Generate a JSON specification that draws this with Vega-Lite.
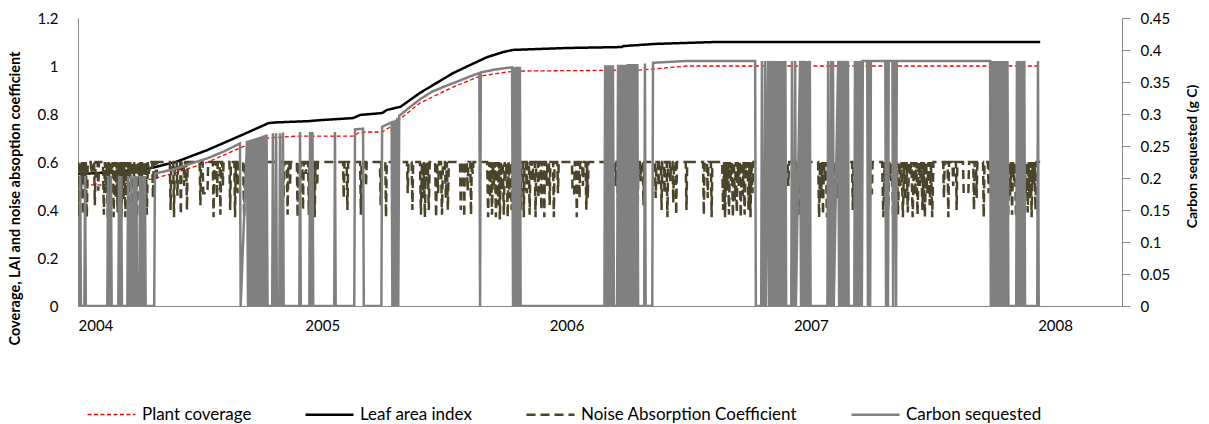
{"$schema":"https://vega.github.io/schema/vega-lite/v6.json","width":1044,"height":288,"autosize":{"type":"none"},"padding":{"left":78,"top":18,"right":87,"bottom":118},"background":"#ffffff",
"config":{"view":{"stroke":null},"font":"Lato","axis":{"domainColor":"#868686","domainWidth":1,"labelFont":"Lato","labelFontSize":15,"labelColor":"#000000","titleFont":"Lato","titleColor":"#000000","grid":false},"legend":{"labelFont":"Lato","labelLimit":500}},
"data":{"values":[
{"s":"P","x":2004.0,"y":0.505},{"s":"P","x":2004.12,"y":0.504},{"s":"P","x":2004.26,"y":0.517},{"s":"P","x":2004.3,"y":0.529},{"s":"P","x":2004.397,"y":0.554},{"s":"P","x":2004.532,"y":0.6},{"s":"P","x":2004.671,"y":0.662},{"s":"P","x":2004.778,"y":0.7},{"s":"P","x":2004.9,"y":0.708},{"s":"P","x":2005.126,"y":0.708},{"s":"P","x":2005.155,"y":0.725},{"s":"P","x":2005.245,"y":0.725},{"s":"P","x":2005.278,"y":0.746},{"s":"P","x":2005.4,"y":0.846},{"s":"P","x":2005.535,"y":0.912},{"s":"P","x":2005.646,"y":0.958},{"s":"P","x":2005.757,"y":0.975},{"s":"P","x":2005.81,"y":0.979},{"s":"P","x":2006.3,"y":0.983},{"s":"P","x":2006.45,"y":0.996},{"s":"P","x":2006.49,"y":1.0},{"s":"P","x":2007.939,"y":1.0},
{"s":"L","x":2004.0,"y":0.55},{"s":"L","x":2004.12,"y":0.556},{"s":"L","x":2004.19,"y":0.562},{"s":"L","x":2004.3,"y":0.575},{"s":"L","x":2004.4,"y":0.6},{"s":"L","x":2004.53,"y":0.65},{"s":"L","x":2004.67,"y":0.712},{"s":"L","x":2004.78,"y":0.762},{"s":"L","x":2004.81,"y":0.765},{"s":"L","x":2004.94,"y":0.77},{"s":"L","x":2005.0,"y":0.775},{"s":"L","x":2005.126,"y":0.783},{"s":"L","x":2005.155,"y":0.796},{"s":"L","x":2005.245,"y":0.804},{"s":"L","x":2005.265,"y":0.817},{"s":"L","x":2005.32,"y":0.83},{"s":"L","x":2005.4,"y":0.888},{"s":"L","x":2005.535,"y":0.97},{"s":"L","x":2005.605,"y":1.004},{"s":"L","x":2005.675,"y":1.037},{"s":"L","x":2005.74,"y":1.058},{"s":"L","x":2005.78,"y":1.067},{"s":"L","x":2006.0,"y":1.075},{"s":"L","x":2006.227,"y":1.079},{"s":"L","x":2006.232,"y":1.083},{"s":"L","x":2006.362,"y":1.092},{"s":"L","x":2006.608,"y":1.1},{"s":"L","x":2007.939,"y":1.1},
{"s":"N","x":2004.000,"y":0.6},{"s":"N","x":2004.004,"y":0.37},{"s":"N","x":2004.008,"y":0.6},{"s":"N","x":2004.012,"y":0.45},{"s":"N","x":2004.016,"y":0.6},{"s":"N","x":2004.020,"y":0.38},{"s":"N","x":2004.024,"y":0.6},{"s":"N","x":2004.028,"y":0.5},{"s":"N","x":2004.032,"y":0.6},{"s":"N","x":2004.036,"y":0.37},{"s":"N","x":2004.040,"y":0.6},{"s":"N","x":2004.052,"y":0.6},{"s":"N","x":2004.055,"y":0.55},{"s":"N","x":2004.058,"y":0.6},{"s":"N","x":2004.066,"y":0.6},{"s":"N","x":2004.069,"y":0.42},{"s":"N","x":2004.072,"y":0.6},{"s":"N","x":2004.080,"y":0.6},{"s":"N","x":2004.083,"y":0.48},{"s":"N","x":2004.086,"y":0.6},
{"s":"N","x":2004.102,"y":0.6},{"s":"N","x":2004.106,"y":0.38},{"s":"N","x":2004.110,"y":0.6},{"s":"N","x":2004.114,"y":0.47},{"s":"N","x":2004.118,"y":0.6},{"s":"N","x":2004.122,"y":0.37},{"s":"N","x":2004.126,"y":0.6},{"s":"N","x":2004.130,"y":0.42},{"s":"N","x":2004.134,"y":0.6},{"s":"N","x":2004.138,"y":0.55},{"s":"N","x":2004.142,"y":0.6},{"s":"N","x":2004.146,"y":0.37},{"s":"N","x":2004.150,"y":0.6},{"s":"N","x":2004.154,"y":0.45},{"s":"N","x":2004.158,"y":0.6},{"s":"N","x":2004.162,"y":0.39},{"s":"N","x":2004.166,"y":0.6},{"s":"N","x":2004.170,"y":0.5},{"s":"N","x":2004.174,"y":0.6},{"s":"N","x":2004.178,"y":0.37},{"s":"N","x":2004.182,"y":0.6},{"s":"N","x":2004.186,"y":0.44},{"s":"N","x":2004.190,"y":0.6},{"s":"N","x":2004.194,"y":0.37},{"s":"N","x":2004.198,"y":0.6},{"s":"N","x":2004.202,"y":0.48},{"s":"N","x":2004.206,"y":0.6},{"s":"N","x":2004.210,"y":0.38},{"s":"N","x":2004.214,"y":0.6},{"s":"N","x":2004.218,"y":0.52},{"s":"N","x":2004.222,"y":0.6},{"s":"N","x":2004.226,"y":0.36},{"s":"N","x":2004.230,"y":0.6},{"s":"N","x":2004.234,"y":0.43},{"s":"N","x":2004.238,"y":0.6},{"s":"N","x":2004.242,"y":0.37},{"s":"N","x":2004.246,"y":0.6},{"s":"N","x":2004.250,"y":0.5},{"s":"N","x":2004.254,"y":0.6},{"s":"N","x":2004.258,"y":0.4},{"s":"N","x":2004.262,"y":0.6},{"s":"N","x":2004.266,"y":0.37},{"s":"N","x":2004.270,"y":0.6},{"s":"N","x":2004.274,"y":0.46},{"s":"N","x":2004.278,"y":0.6},{"s":"N","x":2004.282,"y":0.38},{"s":"N","x":2004.286,"y":0.6},{"s":"N","x":2004.290,"y":0.55},{"s":"N","x":2004.294,"y":0.6},
{"s":"N","x":2004.304,"y":0.6},{"s":"N","x":2004.307,"y":0.45},{"s":"N","x":2004.310,"y":0.6},{"s":"N","x":2004.318,"y":0.6},{"s":"N","x":2004.321,"y":0.52},{"s":"N","x":2004.324,"y":0.6},
{"s":"N","x":2004.376,"y":0.6},{"s":"N","x":2004.379,"y":0.4},{"s":"N","x":2004.382,"y":0.6},{"s":"N","x":2004.390,"y":0.6},{"s":"N","x":2004.393,"y":0.37},{"s":"N","x":2004.396,"y":0.6},{"s":"N","x":2004.404,"y":0.6},{"s":"N","x":2004.407,"y":0.46},{"s":"N","x":2004.410,"y":0.6},{"s":"N","x":2004.418,"y":0.6},{"s":"N","x":2004.421,"y":0.38},{"s":"N","x":2004.424,"y":0.6},{"s":"N","x":2004.432,"y":0.6},{"s":"N","x":2004.435,"y":0.5},{"s":"N","x":2004.438,"y":0.6},{"s":"N","x":2004.443,"y":0.6},{"s":"N","x":2004.446,"y":0.4},{"s":"N","x":2004.449,"y":0.6},
{"s":"N","x":2004.498,"y":0.6},{"s":"N","x":2004.501,"y":0.42},{"s":"N","x":2004.504,"y":0.6},{"s":"N","x":2004.510,"y":0.6},{"s":"N","x":2004.513,"y":0.47},{"s":"N","x":2004.530,"y":0.47},{"s":"N","x":2004.533,"y":0.6},
{"s":"N","x":2004.552,"y":0.6},{"s":"N","x":2004.555,"y":0.37},{"s":"N","x":2004.558,"y":0.6},{"s":"N","x":2004.566,"y":0.6},{"s":"N","x":2004.569,"y":0.45},{"s":"N","x":2004.572,"y":0.6},{"s":"N","x":2004.580,"y":0.6},{"s":"N","x":2004.583,"y":0.38},{"s":"N","x":2004.586,"y":0.6},{"s":"N","x":2004.590,"y":0.6},{"s":"N","x":2004.593,"y":0.5},{"s":"N","x":2004.596,"y":0.6},
{"s":"N","x":2004.620,"y":0.6},{"s":"N","x":2004.623,"y":0.4},{"s":"N","x":2004.626,"y":0.6},{"s":"N","x":2004.640,"y":0.6},{"s":"N","x":2004.643,"y":0.37},{"s":"N","x":2004.646,"y":0.6},{"s":"N","x":2004.650,"y":0.6},{"s":"N","x":2004.653,"y":0.47},{"s":"N","x":2004.656,"y":0.6},
{"s":"N","x":2004.676,"y":0.6},{"s":"N","x":2004.680,"y":0.37},{"s":"N","x":2004.684,"y":0.6},{"s":"N","x":2004.688,"y":0.45},{"s":"N","x":2004.692,"y":0.6},{"s":"N","x":2004.696,"y":0.38},{"s":"N","x":2004.700,"y":0.6},{"s":"N","x":2004.704,"y":0.52},{"s":"N","x":2004.708,"y":0.6},{"s":"N","x":2004.712,"y":0.36},{"s":"N","x":2004.716,"y":0.6},{"s":"N","x":2004.720,"y":0.42},{"s":"N","x":2004.724,"y":0.6},{"s":"N","x":2004.728,"y":0.37},{"s":"N","x":2004.732,"y":0.6},{"s":"N","x":2004.736,"y":0.48},{"s":"N","x":2004.740,"y":0.6},{"s":"N","x":2004.744,"y":0.39},{"s":"N","x":2004.748,"y":0.6},{"s":"N","x":2004.752,"y":0.55},{"s":"N","x":2004.756,"y":0.6},{"s":"N","x":2004.760,"y":0.37},{"s":"N","x":2004.764,"y":0.6},{"s":"N","x":2004.768,"y":0.44},{"s":"N","x":2004.772,"y":0.6},
{"s":"N","x":2004.839,"y":0.6},{"s":"N","x":2004.842,"y":0.45},{"s":"N","x":2004.845,"y":0.6},{"s":"N","x":2004.855,"y":0.6},{"s":"N","x":2004.858,"y":0.38},{"s":"N","x":2004.861,"y":0.6},{"s":"N","x":2004.865,"y":0.6},{"s":"N","x":2004.868,"y":0.5},{"s":"N","x":2004.871,"y":0.6},
{"s":"N","x":2004.896,"y":0.6},{"s":"N","x":2004.899,"y":0.37},{"s":"N","x":2004.902,"y":0.6},{"s":"N","x":2004.906,"y":0.6},{"s":"N","x":2004.909,"y":0.47},{"s":"N","x":2004.912,"y":0.6},{"s":"N","x":2004.918,"y":0.6},{"s":"N","x":2004.921,"y":0.4},{"s":"N","x":2004.924,"y":0.6},{"s":"N","x":2004.930,"y":0.6},{"s":"N","x":2004.933,"y":0.55},{"s":"N","x":2004.936,"y":0.6},{"s":"N","x":2004.942,"y":0.6},{"s":"N","x":2004.945,"y":0.38},{"s":"N","x":2004.948,"y":0.6},{"s":"N","x":2004.954,"y":0.6},{"s":"N","x":2004.957,"y":0.45},{"s":"N","x":2004.960,"y":0.6},{"s":"N","x":2004.966,"y":0.6},{"s":"N","x":2004.969,"y":0.37},{"s":"N","x":2004.972,"y":0.6},{"s":"N","x":2004.976,"y":0.6},{"s":"N","x":2004.979,"y":0.5},{"s":"N","x":2004.982,"y":0.6},
{"s":"N","x":2005.085,"y":0.6},{"s":"N","x":2005.088,"y":0.45},{"s":"N","x":2005.091,"y":0.6},{"s":"N","x":2005.100,"y":0.6},{"s":"N","x":2005.103,"y":0.4},{"s":"N","x":2005.106,"y":0.6},{"s":"N","x":2005.155,"y":0.6},{"s":"N","x":2005.158,"y":0.38},{"s":"N","x":2005.161,"y":0.6},{"s":"N","x":2005.176,"y":0.6},{"s":"N","x":2005.179,"y":0.5},{"s":"N","x":2005.182,"y":0.6},{"s":"N","x":2005.236,"y":0.6},{"s":"N","x":2005.239,"y":0.42},{"s":"N","x":2005.242,"y":0.6},{"s":"N","x":2005.258,"y":0.6},{"s":"N","x":2005.261,"y":0.37},{"s":"N","x":2005.264,"y":0.6},{"s":"N","x":2005.347,"y":0.6},{"s":"N","x":2005.350,"y":0.47},{"s":"N","x":2005.353,"y":0.6},{"s":"N","x":2005.366,"y":0.6},{"s":"N","x":2005.369,"y":0.4},{"s":"N","x":2005.372,"y":0.6},
{"s":"N","x":2005.400,"y":0.6},{"s":"N","x":2005.404,"y":0.38},{"s":"N","x":2005.408,"y":0.6},{"s":"N","x":2005.412,"y":0.45},{"s":"N","x":2005.416,"y":0.6},{"s":"N","x":2005.420,"y":0.37},{"s":"N","x":2005.424,"y":0.6},{"s":"N","x":2005.428,"y":0.52},{"s":"N","x":2005.432,"y":0.6},{"s":"N","x":2005.436,"y":0.4},{"s":"N","x":2005.440,"y":0.6},
{"s":"N","x":2005.462,"y":0.6},{"s":"N","x":2005.466,"y":0.37},{"s":"N","x":2005.470,"y":0.6},{"s":"N","x":2005.474,"y":0.47},{"s":"N","x":2005.478,"y":0.6},{"s":"N","x":2005.486,"y":0.6},{"s":"N","x":2005.490,"y":0.38},{"s":"N","x":2005.494,"y":0.6},{"s":"N","x":2005.502,"y":0.6},{"s":"N","x":2005.506,"y":0.45},{"s":"N","x":2005.510,"y":0.6},{"s":"N","x":2005.514,"y":0.4},{"s":"N","x":2005.518,"y":0.6},
{"s":"N","x":2005.564,"y":0.6},{"s":"N","x":2005.567,"y":0.4},{"s":"N","x":2005.570,"y":0.6},{"s":"N","x":2005.578,"y":0.6},{"s":"N","x":2005.581,"y":0.37},{"s":"N","x":2005.584,"y":0.6},{"s":"N","x":2005.592,"y":0.6},{"s":"N","x":2005.595,"y":0.48},{"s":"N","x":2005.598,"y":0.6},{"s":"N","x":2005.606,"y":0.6},{"s":"N","x":2005.609,"y":0.38},{"s":"N","x":2005.612,"y":0.6},{"s":"N","x":2005.616,"y":0.55},{"s":"N","x":2005.619,"y":0.6},
{"s":"N","x":2005.675,"y":0.6},{"s":"N","x":2005.679,"y":0.37},{"s":"N","x":2005.683,"y":0.6},{"s":"N","x":2005.687,"y":0.45},{"s":"N","x":2005.691,"y":0.6},{"s":"N","x":2005.695,"y":0.38},{"s":"N","x":2005.699,"y":0.6},{"s":"N","x":2005.703,"y":0.5},{"s":"N","x":2005.707,"y":0.6},{"s":"N","x":2005.711,"y":0.37},{"s":"N","x":2005.715,"y":0.6},{"s":"N","x":2005.719,"y":0.42},{"s":"N","x":2005.723,"y":0.6},{"s":"N","x":2005.727,"y":0.36},{"s":"N","x":2005.731,"y":0.6},{"s":"N","x":2005.735,"y":0.48},{"s":"N","x":2005.739,"y":0.6},{"s":"N","x":2005.743,"y":0.38},{"s":"N","x":2005.747,"y":0.6},{"s":"N","x":2005.751,"y":0.53},{"s":"N","x":2005.755,"y":0.6},{"s":"N","x":2005.759,"y":0.37},{"s":"N","x":2005.763,"y":0.6},{"s":"N","x":2005.767,"y":0.45},{"s":"N","x":2005.771,"y":0.6},{"s":"N","x":2005.775,"y":0.4},{"s":"N","x":2005.779,"y":0.6},
{"s":"N","x":2005.810,"y":0.6},{"s":"N","x":2005.813,"y":0.4},{"s":"N","x":2005.816,"y":0.6},{"s":"N","x":2005.822,"y":0.6},{"s":"N","x":2005.825,"y":0.37},{"s":"N","x":2005.828,"y":0.6},{"s":"N","x":2005.834,"y":0.6},{"s":"N","x":2005.837,"y":0.47},{"s":"N","x":2005.840,"y":0.6},{"s":"N","x":2005.846,"y":0.6},{"s":"N","x":2005.849,"y":0.38},{"s":"N","x":2005.852,"y":0.6},{"s":"N","x":2005.858,"y":0.6},{"s":"N","x":2005.861,"y":0.52},{"s":"N","x":2005.864,"y":0.6},{"s":"N","x":2005.870,"y":0.6},{"s":"N","x":2005.873,"y":0.37},{"s":"N","x":2005.876,"y":0.6},{"s":"N","x":2005.882,"y":0.6},{"s":"N","x":2005.885,"y":0.45},{"s":"N","x":2005.888,"y":0.6},{"s":"N","x":2005.894,"y":0.6},{"s":"N","x":2005.897,"y":0.4},{"s":"N","x":2005.900,"y":0.6},{"s":"N","x":2005.906,"y":0.6},{"s":"N","x":2005.909,"y":0.37},{"s":"N","x":2005.912,"y":0.6},{"s":"N","x":2005.916,"y":0.6},{"s":"N","x":2005.919,"y":0.5},{"s":"N","x":2005.922,"y":0.6},
{"s":"N","x":2005.928,"y":0.6},{"s":"N","x":2005.931,"y":0.42},{"s":"N","x":2005.934,"y":0.6},{"s":"N","x":2005.945,"y":0.6},{"s":"N","x":2005.948,"y":0.37},{"s":"N","x":2005.951,"y":0.6},{"s":"N","x":2005.962,"y":0.6},{"s":"N","x":2005.965,"y":0.47},{"s":"N","x":2005.968,"y":0.6},
{"s":"N","x":2006.022,"y":0.6},{"s":"N","x":2006.025,"y":0.47},{"s":"N","x":2006.031,"y":0.47},{"s":"N","x":2006.034,"y":0.6},{"s":"N","x":2006.039,"y":0.6},{"s":"N","x":2006.042,"y":0.37},{"s":"N","x":2006.045,"y":0.6},{"s":"N","x":2006.050,"y":0.6},{"s":"N","x":2006.053,"y":0.45},{"s":"N","x":2006.056,"y":0.6},{"s":"N","x":2006.064,"y":0.6},{"s":"N","x":2006.067,"y":0.5},{"s":"N","x":2006.070,"y":0.6},{"s":"N","x":2006.078,"y":0.6},{"s":"N","x":2006.081,"y":0.4},{"s":"N","x":2006.084,"y":0.6},{"s":"N","x":2006.087,"y":0.45},{"s":"N","x":2006.090,"y":0.6},
{"s":"N","x":2006.170,"y":0.6},{"s":"N","x":2006.173,"y":0.45},{"s":"N","x":2006.176,"y":0.6},{"s":"N","x":2006.184,"y":0.6},{"s":"N","x":2006.187,"y":0.37},{"s":"N","x":2006.190,"y":0.6},{"s":"N","x":2006.198,"y":0.6},{"s":"N","x":2006.201,"y":0.5},{"s":"N","x":2006.204,"y":0.6},{"s":"N","x":2006.208,"y":0.6},{"s":"N","x":2006.211,"y":0.4},{"s":"N","x":2006.214,"y":0.6},
{"s":"N","x":2006.252,"y":0.6},{"s":"N","x":2006.255,"y":0.38},{"s":"N","x":2006.258,"y":0.6},{"s":"N","x":2006.264,"y":0.6},{"s":"N","x":2006.267,"y":0.47},{"s":"N","x":2006.270,"y":0.6},{"s":"N","x":2006.276,"y":0.6},{"s":"N","x":2006.279,"y":0.4},{"s":"N","x":2006.282,"y":0.6},{"s":"N","x":2006.288,"y":0.6},{"s":"N","x":2006.291,"y":0.37},{"s":"N","x":2006.294,"y":0.6},{"s":"N","x":2006.300,"y":0.6},{"s":"N","x":2006.303,"y":0.52},{"s":"N","x":2006.306,"y":0.6},{"s":"N","x":2006.312,"y":0.6},{"s":"N","x":2006.315,"y":0.42},{"s":"N","x":2006.318,"y":0.6},
{"s":"N","x":2006.362,"y":0.6},{"s":"N","x":2006.365,"y":0.45},{"s":"N","x":2006.368,"y":0.6},{"s":"N","x":2006.374,"y":0.6},{"s":"N","x":2006.377,"y":0.5},{"s":"N","x":2006.380,"y":0.6},{"s":"N","x":2006.386,"y":0.6},{"s":"N","x":2006.389,"y":0.4},{"s":"N","x":2006.392,"y":0.6},{"s":"N","x":2006.398,"y":0.6},{"s":"N","x":2006.401,"y":0.47},{"s":"N","x":2006.404,"y":0.6},{"s":"N","x":2006.410,"y":0.6},{"s":"N","x":2006.413,"y":0.37},{"s":"N","x":2006.416,"y":0.6},{"s":"N","x":2006.422,"y":0.6},{"s":"N","x":2006.425,"y":0.52},{"s":"N","x":2006.428,"y":0.6},{"s":"N","x":2006.434,"y":0.6},{"s":"N","x":2006.437,"y":0.43},{"s":"N","x":2006.440,"y":0.6},{"s":"N","x":2006.446,"y":0.6},{"s":"N","x":2006.449,"y":0.38},{"s":"N","x":2006.452,"y":0.6},
{"s":"N","x":2006.488,"y":0.6},{"s":"N","x":2006.491,"y":0.4},{"s":"N","x":2006.494,"y":0.6},{"s":"N","x":2006.559,"y":0.6},{"s":"N","x":2006.562,"y":0.38},{"s":"N","x":2006.565,"y":0.6},{"s":"N","x":2006.575,"y":0.6},{"s":"N","x":2006.578,"y":0.45},{"s":"N","x":2006.581,"y":0.6},{"s":"N","x":2006.591,"y":0.6},{"s":"N","x":2006.594,"y":0.37},{"s":"N","x":2006.597,"y":0.6},
{"s":"N","x":2006.637,"y":0.6},{"s":"N","x":2006.641,"y":0.4},{"s":"N","x":2006.645,"y":0.6},{"s":"N","x":2006.649,"y":0.37},{"s":"N","x":2006.653,"y":0.6},{"s":"N","x":2006.657,"y":0.48},{"s":"N","x":2006.661,"y":0.6},{"s":"N","x":2006.665,"y":0.38},{"s":"N","x":2006.669,"y":0.6},{"s":"N","x":2006.673,"y":0.52},{"s":"N","x":2006.677,"y":0.6},{"s":"N","x":2006.681,"y":0.37},{"s":"N","x":2006.685,"y":0.6},{"s":"N","x":2006.689,"y":0.44},{"s":"N","x":2006.693,"y":0.6},{"s":"N","x":2006.697,"y":0.39},{"s":"N","x":2006.701,"y":0.6},{"s":"N","x":2006.705,"y":0.5},{"s":"N","x":2006.709,"y":0.6},{"s":"N","x":2006.713,"y":0.37},{"s":"N","x":2006.717,"y":0.6},{"s":"N","x":2006.721,"y":0.46},{"s":"N","x":2006.725,"y":0.6},{"s":"N","x":2006.729,"y":0.38},{"s":"N","x":2006.733,"y":0.6},{"s":"N","x":2006.737,"y":0.54},{"s":"N","x":2006.741,"y":0.6},{"s":"N","x":2006.745,"y":0.4},{"s":"N","x":2006.749,"y":0.6},{"s":"N","x":2006.753,"y":0.37},{"s":"N","x":2006.757,"y":0.6},{"s":"N","x":2006.761,"y":0.47},{"s":"N","x":2006.765,"y":0.6},
{"s":"N","x":2006.813,"y":0.6},{"s":"N","x":2006.816,"y":0.42},{"s":"N","x":2006.819,"y":0.6},{"s":"N","x":2006.830,"y":0.6},{"s":"N","x":2006.833,"y":0.37},{"s":"N","x":2006.836,"y":0.6},{"s":"N","x":2006.855,"y":0.6},{"s":"N","x":2006.858,"y":0.47},{"s":"N","x":2006.861,"y":0.6},{"s":"N","x":2006.880,"y":0.6},{"s":"N","x":2006.883,"y":0.4},{"s":"N","x":2006.886,"y":0.6},{"s":"N","x":2006.905,"y":0.6},{"s":"N","x":2006.908,"y":0.5},{"s":"N","x":2006.911,"y":0.6},
{"s":"N","x":2006.923,"y":0.6},{"s":"N","x":2006.926,"y":0.37},{"s":"N","x":2006.929,"y":0.6},{"s":"N","x":2006.935,"y":0.6},{"s":"N","x":2006.938,"y":0.45},{"s":"N","x":2006.941,"y":0.6},{"s":"N","x":2006.947,"y":0.6},{"s":"N","x":2006.950,"y":0.38},{"s":"N","x":2006.953,"y":0.6},{"s":"N","x":2006.959,"y":0.6},{"s":"N","x":2006.962,"y":0.5},{"s":"N","x":2006.965,"y":0.6},{"s":"N","x":2006.971,"y":0.6},{"s":"N","x":2006.974,"y":0.4},{"s":"N","x":2006.977,"y":0.6},{"s":"N","x":2006.990,"y":0.6},{"s":"N","x":2006.993,"y":0.47},{"s":"N","x":2006.996,"y":0.6},
{"s":"N","x":2007.030,"y":0.6},{"s":"N","x":2007.034,"y":0.37},{"s":"N","x":2007.038,"y":0.6},{"s":"N","x":2007.042,"y":0.45},{"s":"N","x":2007.046,"y":0.6},{"s":"N","x":2007.050,"y":0.38},{"s":"N","x":2007.054,"y":0.6},{"s":"N","x":2007.058,"y":0.52},{"s":"N","x":2007.062,"y":0.6},{"s":"N","x":2007.066,"y":0.37},{"s":"N","x":2007.070,"y":0.6},{"s":"N","x":2007.074,"y":0.42},{"s":"N","x":2007.078,"y":0.6},{"s":"N","x":2007.082,"y":0.36},{"s":"N","x":2007.086,"y":0.6},{"s":"N","x":2007.090,"y":0.48},{"s":"N","x":2007.094,"y":0.6},{"s":"N","x":2007.098,"y":0.39},{"s":"N","x":2007.102,"y":0.6},{"s":"N","x":2007.106,"y":0.45},{"s":"N","x":2007.110,"y":0.6},
{"s":"N","x":2007.169,"y":0.6},{"s":"N","x":2007.172,"y":0.4},{"s":"N","x":2007.175,"y":0.6},{"s":"N","x":2007.181,"y":0.6},{"s":"N","x":2007.184,"y":0.37},{"s":"N","x":2007.187,"y":0.6},{"s":"N","x":2007.193,"y":0.6},{"s":"N","x":2007.196,"y":0.45},{"s":"N","x":2007.199,"y":0.6},{"s":"N","x":2007.202,"y":0.47},{"s":"N","x":2007.250,"y":0.47},{"s":"N","x":2007.253,"y":0.6},
{"s":"N","x":2007.292,"y":0.6},{"s":"N","x":2007.297,"y":0.37},{"s":"N","x":2007.302,"y":0.6},{"s":"N","x":2007.307,"y":0.45},{"s":"N","x":2007.312,"y":0.6},{"s":"N","x":2007.317,"y":0.4},{"s":"N","x":2007.322,"y":0.6},{"s":"N","x":2007.327,"y":0.52},{"s":"N","x":2007.332,"y":0.6},{"s":"N","x":2007.337,"y":0.37},{"s":"N","x":2007.342,"y":0.6},{"s":"N","x":2007.347,"y":0.47},{"s":"N","x":2007.352,"y":0.6},{"s":"N","x":2007.357,"y":0.38},{"s":"N","x":2007.362,"y":0.6},{"s":"N","x":2007.367,"y":0.5},{"s":"N","x":2007.372,"y":0.6},{"s":"N","x":2007.377,"y":0.37},{"s":"N","x":2007.382,"y":0.6},{"s":"N","x":2007.387,"y":0.44},{"s":"N","x":2007.392,"y":0.6},{"s":"N","x":2007.397,"y":0.39},{"s":"N","x":2007.402,"y":0.6},{"s":"N","x":2007.407,"y":0.55},{"s":"N","x":2007.412,"y":0.6},{"s":"N","x":2007.417,"y":0.37},{"s":"N","x":2007.422,"y":0.6},{"s":"N","x":2007.427,"y":0.46},{"s":"N","x":2007.432,"y":0.6},{"s":"N","x":2007.437,"y":0.38},{"s":"N","x":2007.442,"y":0.6},{"s":"N","x":2007.447,"y":0.5},{"s":"N","x":2007.452,"y":0.6},{"s":"N","x":2007.457,"y":0.4},{"s":"N","x":2007.462,"y":0.6},{"s":"N","x":2007.467,"y":0.37},{"s":"N","x":2007.472,"y":0.6},{"s":"N","x":2007.477,"y":0.47},{"s":"N","x":2007.482,"y":0.6},{"s":"N","x":2007.487,"y":0.42},{"s":"N","x":2007.492,"y":0.6},{"s":"N","x":2007.497,"y":0.37},{"s":"N","x":2007.502,"y":0.6},
{"s":"N","x":2007.542,"y":0.6},{"s":"N","x":2007.545,"y":0.45},{"s":"N","x":2007.548,"y":0.6},{"s":"N","x":2007.560,"y":0.6},{"s":"N","x":2007.563,"y":0.37},{"s":"N","x":2007.566,"y":0.6},{"s":"N","x":2007.580,"y":0.6},{"s":"N","x":2007.583,"y":0.5},{"s":"N","x":2007.586,"y":0.6},{"s":"N","x":2007.594,"y":0.6},{"s":"N","x":2007.597,"y":0.4},{"s":"N","x":2007.600,"y":0.6},
{"s":"N","x":2007.623,"y":0.6},{"s":"N","x":2007.626,"y":0.47},{"s":"N","x":2007.645,"y":0.47},{"s":"N","x":2007.648,"y":0.6},{"s":"N","x":2007.665,"y":0.6},{"s":"N","x":2007.668,"y":0.4},{"s":"N","x":2007.671,"y":0.6},{"s":"N","x":2007.676,"y":0.6},{"s":"N","x":2007.679,"y":0.45},{"s":"N","x":2007.682,"y":0.6},{"s":"N","x":2007.705,"y":0.6},{"s":"N","x":2007.708,"y":0.37},{"s":"N","x":2007.711,"y":0.6},{"s":"N","x":2007.725,"y":0.6},{"s":"N","x":2007.728,"y":0.47},{"s":"N","x":2007.731,"y":0.6},
{"s":"N","x":2007.804,"y":0.6},{"s":"N","x":2007.808,"y":0.37},{"s":"N","x":2007.812,"y":0.6},{"s":"N","x":2007.816,"y":0.46},{"s":"N","x":2007.820,"y":0.6},{"s":"N","x":2007.824,"y":0.38},{"s":"N","x":2007.828,"y":0.6},{"s":"N","x":2007.832,"y":0.52},{"s":"N","x":2007.836,"y":0.6},{"s":"N","x":2007.840,"y":0.37},{"s":"N","x":2007.844,"y":0.6},{"s":"N","x":2007.848,"y":0.44},{"s":"N","x":2007.852,"y":0.6},{"s":"N","x":2007.856,"y":0.4},{"s":"N","x":2007.860,"y":0.6},{"s":"N","x":2007.864,"y":0.5},{"s":"N","x":2007.868,"y":0.6},{"s":"N","x":2007.872,"y":0.37},{"s":"N","x":2007.876,"y":0.6},{"s":"N","x":2007.880,"y":0.47},{"s":"N","x":2007.884,"y":0.6},{"s":"N","x":2007.888,"y":0.39},{"s":"N","x":2007.892,"y":0.6},{"s":"N","x":2007.896,"y":0.45},{"s":"N","x":2007.900,"y":0.6},{"s":"N","x":2007.904,"y":0.37},{"s":"N","x":2007.908,"y":0.6},{"s":"N","x":2007.912,"y":0.5},{"s":"N","x":2007.916,"y":0.6},{"s":"N","x":2007.920,"y":0.4},{"s":"N","x":2007.924,"y":0.6},{"s":"N","x":2007.939,"y":0.6},
{"s":"C","x":2004.000,"y":0},{"s":"C","x":2004.006,"y":0},{"s":"C","x":2004.009,"y":0.203},{"s":"C","x":2004.012,"y":0},{"s":"C","x":2004.026,"y":0},{"s":"C","x":2004.029,"y":0.203},{"s":"C","x":2004.032,"y":0},{"s":"C","x":2004.120,"y":0},{"s":"C","x":2004.123,"y":0.203},{"s":"C","x":2004.126,"y":0},{"s":"C","x":2004.132,"y":0},{"s":"C","x":2004.135,"y":0.203},{"s":"C","x":2004.138,"y":0},{"s":"C","x":2004.165,"y":0},{"s":"C","x":2004.168,"y":0.203},{"s":"C","x":2004.171,"y":0},{"s":"C","x":2004.174,"y":0},{"s":"C","x":2004.177,"y":0.203},{"s":"C","x":2004.180,"y":0},
{"s":"C","x":2004.202,"y":0},{"s":"C","x":2004.205,"y":0.203},{"s":"C","x":2004.208,"y":0},{"s":"C","x":2004.214,"y":0},{"s":"C","x":2004.217,"y":0.203},{"s":"C","x":2004.220,"y":0},{"s":"C","x":2004.226,"y":0},{"s":"C","x":2004.229,"y":0.203},{"s":"C","x":2004.232,"y":0},{"s":"C","x":2004.236,"y":0},{"s":"C","x":2004.239,"y":0.203},{"s":"C","x":2004.242,"y":0},{"s":"C","x":2004.251,"y":0},{"s":"C","x":2004.254,"y":0.203},{"s":"C","x":2004.257,"y":0},{"s":"C","x":2004.262,"y":0},{"s":"C","x":2004.265,"y":0.203},{"s":"C","x":2004.268,"y":0},{"s":"C","x":2004.271,"y":0},{"s":"C","x":2004.274,"y":0.203},{"s":"C","x":2004.277,"y":0},
{"s":"C","x":2004.312,"y":0},{"s":"C","x":2004.315,"y":0.207},{"s":"C","x":2004.397,"y":0.214},{"s":"C","x":2004.45,"y":0.221},{"s":"C","x":2004.532,"y":0.231},{"s":"C","x":2004.6,"y":0.242},{"s":"C","x":2004.663,"y":0.254},{"s":"C","x":2004.666,"y":0},
{"s":"C","x":2004.692,"y":0.258},{"s":"C","x":2004.696,"y":0},{"s":"C","x":2004.700,"y":0.259},{"s":"C","x":2004.704,"y":0},{"s":"C","x":2004.708,"y":0.26},{"s":"C","x":2004.712,"y":0},{"s":"C","x":2004.716,"y":0.261},{"s":"C","x":2004.720,"y":0},{"s":"C","x":2004.724,"y":0.262},{"s":"C","x":2004.728,"y":0},{"s":"C","x":2004.732,"y":0.263},{"s":"C","x":2004.736,"y":0},{"s":"C","x":2004.740,"y":0.264},{"s":"C","x":2004.744,"y":0},{"s":"C","x":2004.748,"y":0.265},{"s":"C","x":2004.752,"y":0},{"s":"C","x":2004.756,"y":0.266},{"s":"C","x":2004.760,"y":0},{"s":"C","x":2004.764,"y":0.267},{"s":"C","x":2004.768,"y":0},{"s":"C","x":2004.772,"y":0.268},{"s":"C","x":2004.776,"y":0},
{"s":"C","x":2004.795,"y":0},{"s":"C","x":2004.798,"y":0.27},{"s":"C","x":2004.801,"y":0},{"s":"C","x":2004.808,"y":0},{"s":"C","x":2004.811,"y":0.27},{"s":"C","x":2004.814,"y":0},{"s":"C","x":2004.824,"y":0},{"s":"C","x":2004.827,"y":0.27},{"s":"C","x":2004.830,"y":0},{"s":"C","x":2004.836,"y":0},{"s":"C","x":2004.839,"y":0.271},{"s":"C","x":2004.842,"y":0},{"s":"C","x":2004.906,"y":0},{"s":"C","x":2004.909,"y":0.272},{"s":"C","x":2004.912,"y":0},{"s":"C","x":2004.947,"y":0},{"s":"C","x":2004.950,"y":0.272},{"s":"C","x":2004.953,"y":0},{"s":"C","x":2004.957,"y":0},{"s":"C","x":2004.960,"y":0.272},{"s":"C","x":2004.963,"y":0},{"s":"C","x":2005.049,"y":0},{"s":"C","x":2005.052,"y":0.272},{"s":"C","x":2005.055,"y":0},
{"s":"C","x":2005.131,"y":0},{"s":"C","x":2005.134,"y":0.276},{"s":"C","x":2005.167,"y":0.277},{"s":"C","x":2005.170,"y":0},{"s":"C","x":2005.242,"y":0},{"s":"C","x":2005.245,"y":0.28},{"s":"C","x":2005.284,"y":0.287},{"s":"C","x":2005.287,"y":0},{"s":"C","x":2005.291,"y":0.289},{"s":"C","x":2005.295,"y":0},{"s":"C","x":2005.299,"y":0.291},{"s":"C","x":2005.303,"y":0},{"s":"C","x":2005.307,"y":0.294},{"s":"C","x":2005.311,"y":0},{"s":"C","x":2005.315,"y":0.297},{"s":"C","x":2005.35,"y":0.308},{"s":"C","x":2005.40,"y":0.323},{"s":"C","x":2005.45,"y":0.335},{"s":"C","x":2005.50,"y":0.343},{"s":"C","x":2005.535,"y":0.348},{"s":"C","x":2005.60,"y":0.358},{"s":"C","x":2005.643,"y":0.364},{"s":"C","x":2005.646,"y":0},{"s":"C","x":2005.649,"y":0.365},{"s":"C","x":2005.70,"y":0.369},{"s":"C","x":2005.756,"y":0.372},{"s":"C","x":2005.777,"y":0.373},{"s":"C","x":2005.781,"y":0},{"s":"C","x":2005.785,"y":0.373},{"s":"C","x":2005.789,"y":0},{"s":"C","x":2005.793,"y":0.374},{"s":"C","x":2005.797,"y":0},{"s":"C","x":2005.801,"y":0.374},{"s":"C","x":2005.805,"y":0},{"s":"C","x":2005.809,"y":0.374},{"s":"C","x":2005.812,"y":0},
{"s":"C","x":2006.155,"y":0},{"s":"C","x":2006.158,"y":0.376},{"s":"C","x":2006.162,"y":0},{"s":"C","x":2006.166,"y":0.376},{"s":"C","x":2006.170,"y":0},{"s":"C","x":2006.174,"y":0.376},{"s":"C","x":2006.178,"y":0},{"s":"C","x":2006.182,"y":0.376},{"s":"C","x":2006.186,"y":0},{"s":"C","x":2006.190,"y":0.376},{"s":"C","x":2006.194,"y":0},
{"s":"C","x":2006.207,"y":0},{"s":"C","x":2006.211,"y":0.377},{"s":"C","x":2006.215,"y":0},{"s":"C","x":2006.219,"y":0.377},{"s":"C","x":2006.223,"y":0},{"s":"C","x":2006.227,"y":0.377},{"s":"C","x":2006.231,"y":0},{"s":"C","x":2006.235,"y":0.377},{"s":"C","x":2006.239,"y":0},{"s":"C","x":2006.243,"y":0.377},{"s":"C","x":2006.247,"y":0},{"s":"C","x":2006.251,"y":0.378},{"s":"C","x":2006.255,"y":0},{"s":"C","x":2006.259,"y":0.378},{"s":"C","x":2006.263,"y":0},{"s":"C","x":2006.267,"y":0.378},{"s":"C","x":2006.271,"y":0},{"s":"C","x":2006.275,"y":0.378},{"s":"C","x":2006.279,"y":0},{"s":"C","x":2006.283,"y":0.378},{"s":"C","x":2006.287,"y":0},{"s":"C","x":2006.290,"y":0.378},{"s":"C","x":2006.293,"y":0},
{"s":"C","x":2006.318,"y":0},{"s":"C","x":2006.321,"y":0.379},{"s":"C","x":2006.324,"y":0},{"s":"C","x":2006.351,"y":0},{"s":"C","x":2006.354,"y":0.38},{"s":"C","x":2006.45,"y":0.382},{"s":"C","x":2006.5,"y":0.383},{"s":"C","x":2006.772,"y":0.383},{"s":"C","x":2006.775,"y":0},
{"s":"C","x":2006.797,"y":0},{"s":"C","x":2006.800,"y":0.383},{"s":"C","x":2006.803,"y":0},{"s":"C","x":2006.810,"y":0},{"s":"C","x":2006.813,"y":0.383},{"s":"C","x":2006.816,"y":0},{"s":"C","x":2006.825,"y":0.383},{"s":"C","x":2006.829,"y":0},{"s":"C","x":2006.833,"y":0.383},{"s":"C","x":2006.837,"y":0},{"s":"C","x":2006.841,"y":0.383},{"s":"C","x":2006.845,"y":0},{"s":"C","x":2006.849,"y":0.383},{"s":"C","x":2006.853,"y":0},{"s":"C","x":2006.857,"y":0.383},{"s":"C","x":2006.861,"y":0},{"s":"C","x":2006.865,"y":0.383},{"s":"C","x":2006.869,"y":0},{"s":"C","x":2006.873,"y":0.383},{"s":"C","x":2006.877,"y":0},{"s":"C","x":2006.881,"y":0.383},{"s":"C","x":2006.885,"y":0},{"s":"C","x":2006.889,"y":0.383},{"s":"C","x":2006.893,"y":0},{"s":"C","x":2006.896,"y":0.383},{"s":"C","x":2006.899,"y":0},
{"s":"C","x":2006.920,"y":0},{"s":"C","x":2006.923,"y":0.383},{"s":"C","x":2006.926,"y":0},{"s":"C","x":2006.933,"y":0},{"s":"C","x":2006.936,"y":0.383},{"s":"C","x":2006.939,"y":0},{"s":"C","x":2006.956,"y":0.383},{"s":"C","x":2006.960,"y":0},{"s":"C","x":2006.964,"y":0.383},{"s":"C","x":2006.968,"y":0},{"s":"C","x":2006.972,"y":0.383},{"s":"C","x":2006.976,"y":0},{"s":"C","x":2006.980,"y":0.383},{"s":"C","x":2006.984,"y":0},{"s":"C","x":2006.988,"y":0.383},{"s":"C","x":2006.992,"y":0},{"s":"C","x":2006.996,"y":0.383},{"s":"C","x":2006.999,"y":0},
{"s":"C","x":2007.068,"y":0},{"s":"C","x":2007.071,"y":0.383},{"s":"C","x":2007.074,"y":0},{"s":"C","x":2007.080,"y":0},{"s":"C","x":2007.083,"y":0.383},{"s":"C","x":2007.086,"y":0},{"s":"C","x":2007.088,"y":0},{"s":"C","x":2007.091,"y":0.383},{"s":"C","x":2007.094,"y":0},{"s":"C","x":2007.112,"y":0.383},{"s":"C","x":2007.116,"y":0},{"s":"C","x":2007.120,"y":0.383},{"s":"C","x":2007.124,"y":0},{"s":"C","x":2007.128,"y":0.383},{"s":"C","x":2007.132,"y":0},{"s":"C","x":2007.136,"y":0.383},{"s":"C","x":2007.140,"y":0},{"s":"C","x":2007.144,"y":0.383},{"s":"C","x":2007.148,"y":0},{"s":"C","x":2007.152,"y":0.383},{"s":"C","x":2007.155,"y":0},
{"s":"C","x":2007.178,"y":0},{"s":"C","x":2007.181,"y":0.383},{"s":"C","x":2007.185,"y":0},{"s":"C","x":2007.189,"y":0.383},{"s":"C","x":2007.193,"y":0},{"s":"C","x":2007.197,"y":0.383},{"s":"C","x":2007.201,"y":0},{"s":"C","x":2007.205,"y":0.383},{"s":"C","x":2007.209,"y":0},{"s":"C","x":2007.213,"y":0.383},{"s":"C","x":2007.231,"y":0.383},{"s":"C","x":2007.234,"y":0},{"s":"C","x":2007.237,"y":0.383},{"s":"C","x":2007.240,"y":0.383},{"s":"C","x":2007.243,"y":0},{"s":"C","x":2007.246,"y":0.383},{"s":"C","x":2007.305,"y":0.383},{"s":"C","x":2007.308,"y":0},{"s":"C","x":2007.311,"y":0.383},{"s":"C","x":2007.313,"y":0.383},{"s":"C","x":2007.316,"y":0},{"s":"C","x":2007.319,"y":0.383},{"s":"C","x":2007.334,"y":0.383},{"s":"C","x":2007.337,"y":0},{"s":"C","x":2007.340,"y":0.383},{"s":"C","x":2007.346,"y":0.383},{"s":"C","x":2007.349,"y":0},{"s":"C","x":2007.352,"y":0.383},{"s":"C","x":2007.734,"y":0.383},{"s":"C","x":2007.737,"y":0},
{"s":"C","x":2007.741,"y":0.383},{"s":"C","x":2007.745,"y":0},{"s":"C","x":2007.749,"y":0.383},{"s":"C","x":2007.753,"y":0},{"s":"C","x":2007.757,"y":0.383},{"s":"C","x":2007.761,"y":0},{"s":"C","x":2007.765,"y":0.383},{"s":"C","x":2007.769,"y":0},{"s":"C","x":2007.773,"y":0.383},{"s":"C","x":2007.777,"y":0},{"s":"C","x":2007.781,"y":0.383},{"s":"C","x":2007.785,"y":0},{"s":"C","x":2007.789,"y":0.383},{"s":"C","x":2007.793,"y":0},{"s":"C","x":2007.797,"y":0.383},{"s":"C","x":2007.801,"y":0},{"s":"C","x":2007.805,"y":0.383},{"s":"C","x":2007.809,"y":0},
{"s":"C","x":2007.841,"y":0},{"s":"C","x":2007.844,"y":0.383},{"s":"C","x":2007.847,"y":0},{"s":"C","x":2007.851,"y":0.383},{"s":"C","x":2007.854,"y":0},{"s":"C","x":2007.858,"y":0.383},{"s":"C","x":2007.861,"y":0},{"s":"C","x":2007.865,"y":0.383},{"s":"C","x":2007.868,"y":0},{"s":"C","x":2007.874,"y":0.383},{"s":"C","x":2007.877,"y":0},{"s":"C","x":2007.927,"y":0},{"s":"C","x":2007.930,"y":0.383},{"s":"C","x":2007.933,"y":0},{"s":"C","x":2007.939,"y":0}
]},
"encoding":{
"x":{"field":"x","type":"quantitative","scale":{"domain":[2004,2008.274],"nice":false,"zero":false},"axis":{"values":[2004,2005,2006,2007,2008],"format":"d","ticks":false,"labelPadding":12,"title":null}},
"color":{"field":"s","type":"nominal","scale":{"domain":["P","L","N","C"],"range":["#ff0000","#000000","#4a452a","#808080"]},"legend":{"orient":"none","legendX":8,"legendY":371,"direction":"horizontal","columns":4,"title":null,"symbolType":"stroke","symbolSize":2304,"labelFontSize":17,"labelColor":"#000000","columnPadding":48,"labelOffset":5,"labelLimit":500,"labelExpr":"datum.label==='P'?'Plant coverage':datum.label==='L'?'Leaf area index':datum.label==='N'?'Noise Absorption Coefficient':'Carbon sequested'"}},
"strokeDash":{"field":"s","type":"nominal","scale":{"domain":["P","L","N","C"],"range":[[4,2.5],[1,0],[9,5],[1,0]]},"legend":{"orient":"none","legendX":8,"legendY":371,"direction":"horizontal","columns":4,"title":null,"symbolType":"stroke","symbolSize":2304,"labelFontSize":17,"labelColor":"#000000","columnPadding":48,"labelOffset":5,"labelLimit":500,"labelExpr":"datum.label==='P'?'Plant coverage':datum.label==='L'?'Leaf area index':datum.label==='N'?'Noise Absorption Coefficient':'Carbon sequested'"}},
"strokeWidth":{"field":"s","type":"nominal","scale":{"type":"ordinal","domain":["P","L","N","C"],"range":[1.3,2.5,2.5,2.5]},"legend":{"orient":"none","legendX":8,"legendY":371,"direction":"horizontal","columns":4,"title":null,"symbolType":"stroke","symbolSize":2304,"labelFontSize":17,"labelColor":"#000000","columnPadding":48,"labelOffset":5,"labelLimit":500,"labelExpr":"datum.label==='P'?'Plant coverage':datum.label==='L'?'Leaf area index':datum.label==='N'?'Noise Absorption Coefficient':'Carbon sequested'"}}
},
"layer":[
{"encoding":{"y":{"field":"y","type":"quantitative","scale":{"domain":[0,1.2],"nice":false,"zero":true},"axis":{"values":[0,0.2,0.4,0.6,0.8,1,1.2],"format":".1~f","ticks":false,"labelPadding":20,"title":"Coverage, LAI and noise absoption coefficient","titleFontWeight":"bold","titleFontSize":14.5,"titleAngle":-90,"titleX":-63,"titleY":180,"titleAlign":"center","titleBaseline":"middle"}}},
 "layer":[
  {"transform":[{"filter":"datum.s==='P'"}],"mark":{"type":"line","clip":true,"strokeCap":"butt"}},
  {"transform":[{"filter":"datum.s==='L'"}],"mark":{"type":"line","clip":true,"strokeCap":"butt"}},
  {"transform":[{"filter":"datum.s==='N'"}],"mark":{"type":"line","clip":true,"strokeCap":"butt"}}
 ]},
{"transform":[{"filter":"datum.s==='C'"}],"mark":{"type":"line","clip":true,"strokeCap":"butt"},
 "encoding":{"y":{"field":"y","type":"quantitative","scale":{"domain":[0,0.45],"nice":false,"zero":true},"axis":{"orient":"right","values":[0,0.05,0.1,0.15,0.2,0.25,0.3,0.35,0.4,0.45],"format":".2~f","ticks":true,"tickSize":8,"tickColor":"#868686","labelPadding":10,"title":"Carbon sequested (g C)","titleFontWeight":"bold","titleFontSize":14,"titleAngle":-90,"titleX":70,"titleY":138,"titleAlign":"center","titleBaseline":"middle"}}}}
],
"resolve":{"scale":{"y":"independent"}}
}
